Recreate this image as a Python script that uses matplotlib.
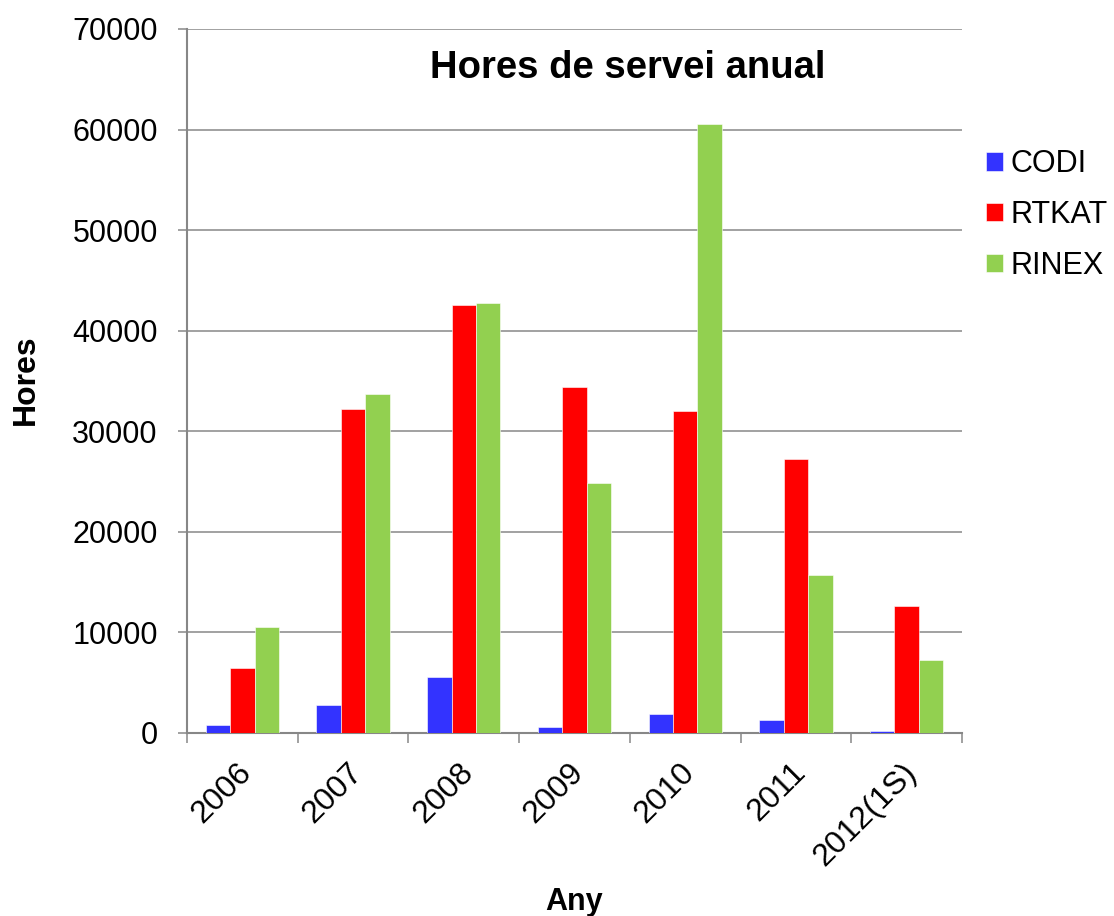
import numpy as np
import matplotlib as mpl
mpl.use('Agg')
import matplotlib.pyplot as plt
import matplotlib.transforms as mtransforms

mpl.rcParams['font.family'] = ['Liberation Sans', 'DejaVu Sans']

# data
years = ['2006', '2007', '2008', '2009', '2010', '2011', '2012(1S)']
codi = [800, 2800, 5600, 550, 1900, 1300, 200]
rtkat = [6500, 32200, 42600, 34400, 32000, 27200, 12600]
rinex = [10500, 33700, 42800, 24900, 60600, 15700, 7300]
series = ['CODI', 'RTKAT', 'RINEX']
colors = ['#3333FF', '#FF0000', '#92D050']

grey = '#878787'

fig = plt.figure(figsize=(11.14, 9.16), dpi=100)
ax = fig.add_axes([187 / 1114, 1 - 733 / 916, 775 / 1114, 704 / 916])

x = np.arange(len(years))
w = 0.221
for i, (vals, name, c) in enumerate(zip([codi, rtkat, rinex], series, colors)):
    ax.bar(x + (i - 1) * w, vals, w, color=c, label=name,
           edgecolor='white', linewidth=0.4, zorder=3)

ax.set_xlim(-0.5, len(years) - 0.5)
ax.set_ylim(0, 70000)
ax.set_yticks(np.arange(0, 70001, 10000))
ax.yaxis.grid(True, color=grey, linewidth=1.1, zorder=0)
ax.set_axisbelow(True)

# boundary ticks (major) and labels at the centres (minor)
ax.set_xticks(np.arange(-0.5, len(years), 1.0))
ax.set_xticklabels([])
ax.set_xticks(x, minor=True)
ax.set_xticklabels(years, minor=True, rotation=45, ha='right', va='center',
                   rotation_mode='anchor', fontsize=23)
ax.tick_params(axis='x', which='major', length=7, width=1.1, color=grey, direction='out')
ax.tick_params(axis='x', which='minor', length=0, pad=25)
ax.tick_params(axis='y', length=6.5, width=1.1, color=grey, direction='out', labelsize=22, pad=14.5)

offset = mtransforms.ScaledTranslation(0.05, 0, fig.dpi_scale_trans)
for lab in ax.xaxis.get_minorticklabels():
    lab.set_transform(lab.get_transform() + offset)

for s in ['top', 'right']:
    ax.spines[s].set_visible(False)
for s in ['left', 'bottom']:
    ax.spines[s].set_color(grey)
    ax.spines[s].set_linewidth(1.5)

fig.text(628 / 1114, 1 - 77.7 / 916, 'Hores de servei anual', fontsize=27.5,
         fontweight='bold', ha='center', va='baseline')
fig.text(26 / 1114, 1 - 380 / 916, 'Hores', fontsize=23, fontweight='bold',
         rotation=90, ha='center', va='center')
fig.text(574 / 1114, 1 - 910 / 916, 'Any', fontsize=22, fontweight='bold',
         ha='center', va='baseline')

fig.legend(loc='center left', bbox_to_anchor=(986 / 1114, 1 - 215 / 916),
           frameon=False, fontsize=22, handlelength=0.55, handleheight=0.55,
           handletextpad=0.25, labelspacing=0.68, borderpad=0, borderaxespad=0)

fig.savefig('out.png', dpi=100)
